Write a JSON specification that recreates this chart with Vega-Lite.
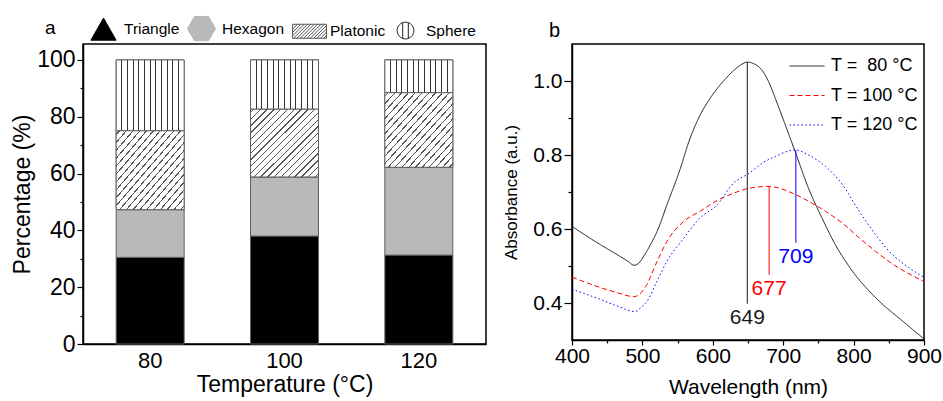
{
  "$schema": "https://vega.github.io/schema/vega-lite/v6.json",
  "background": "white",
  "padding": {"left": 10, "top": 14, "right": 4, "bottom": 2},
  "bounds": "flush",
  "spacing": 86,
  "datasets": {
    "shapes": [
      {"temp": 80, "type": "Triangle", "order": 1, "pct": 30.5},
      {"temp": 80, "type": "Hexagon", "order": 2, "pct": 16.8},
      {"temp": 80, "type": "Platonic", "order": 3, "pct": 27.8},
      {"temp": 80, "type": "Sphere", "order": 4, "pct": 24.9},
      {"temp": 100, "type": "Triangle", "order": 1, "pct": 38.0},
      {"temp": 100, "type": "Hexagon", "order": 2, "pct": 20.8},
      {"temp": 100, "type": "Platonic", "order": 3, "pct": 23.9},
      {"temp": 100, "type": "Sphere", "order": 4, "pct": 17.3},
      {"temp": 120, "type": "Triangle", "order": 1, "pct": 31.3},
      {"temp": 120, "type": "Hexagon", "order": 2, "pct": 30.9},
      {"temp": 120, "type": "Platonic", "order": 3, "pct": 26.3},
      {"temp": 120, "type": "Sphere", "order": 4, "pct": 11.5}
    ],
    "spectra": [
      {"series": "T = \u00a080 °C", "wl": 400, "absorb": 0.607},
      {"series": "T = \u00a080 °C", "wl": 420, "absorb": 0.582},
      {"series": "T = \u00a080 °C", "wl": 440, "absorb": 0.558},
      {"series": "T = \u00a080 °C", "wl": 464, "absorb": 0.531},
      {"series": "T = \u00a080 °C", "wl": 480, "absorb": 0.512},
      {"series": "T = \u00a080 °C", "wl": 488, "absorb": 0.502},
      {"series": "T = \u00a080 °C", "wl": 495, "absorb": 0.508},
      {"series": "T = \u00a080 °C", "wl": 502, "absorb": 0.527},
      {"series": "T = \u00a080 °C", "wl": 511, "absorb": 0.556},
      {"series": "T = \u00a080 °C", "wl": 521, "absorb": 0.594},
      {"series": "T = \u00a080 °C", "wl": 535, "absorb": 0.666},
      {"series": "T = \u00a080 °C", "wl": 554, "absorb": 0.764},
      {"series": "T = \u00a080 °C", "wl": 566, "absorb": 0.836},
      {"series": "T = \u00a080 °C", "wl": 582, "absorb": 0.908},
      {"series": "T = \u00a080 °C", "wl": 594, "absorb": 0.947},
      {"series": "T = \u00a080 °C", "wl": 606, "absorb": 0.979},
      {"series": "T = \u00a080 °C", "wl": 618, "absorb": 1.006},
      {"series": "T = \u00a080 °C", "wl": 630, "absorb": 1.029},
      {"series": "T = \u00a080 °C", "wl": 640, "absorb": 1.044},
      {"series": "T = \u00a080 °C", "wl": 649, "absorb": 1.051},
      {"series": "T = \u00a080 °C", "wl": 660, "absorb": 1.045},
      {"series": "T = \u00a080 °C", "wl": 670, "absorb": 1.029},
      {"series": "T = \u00a080 °C", "wl": 680, "absorb": 0.995},
      {"series": "T = \u00a080 °C", "wl": 689, "absorb": 0.952},
      {"series": "T = \u00a080 °C", "wl": 703, "absorb": 0.881},
      {"series": "T = \u00a080 °C", "wl": 717, "absorb": 0.809},
      {"series": "T = \u00a080 °C", "wl": 736, "absorb": 0.71},
      {"series": "T = \u00a080 °C", "wl": 755, "absorb": 0.63},
      {"series": "T = \u00a080 °C", "wl": 774, "absorb": 0.558},
      {"series": "T = \u00a080 °C", "wl": 798, "absorb": 0.487},
      {"series": "T = \u00a080 °C", "wl": 831, "absorb": 0.415},
      {"series": "T = \u00a080 °C", "wl": 869, "absorb": 0.352},
      {"series": "T = \u00a080 °C", "wl": 900, "absorb": 0.303},
      {"series": "T = 100 °C", "wl": 400, "absorb": 0.47},
      {"series": "T = 100 °C", "wl": 440, "absorb": 0.442},
      {"series": "T = 100 °C", "wl": 464, "absorb": 0.428},
      {"series": "T = 100 °C", "wl": 488, "absorb": 0.417},
      {"series": "T = 100 °C", "wl": 496, "absorb": 0.424},
      {"series": "T = 100 °C", "wl": 504, "absorb": 0.442},
      {"series": "T = 100 °C", "wl": 521, "absorb": 0.513},
      {"series": "T = 100 °C", "wl": 535, "absorb": 0.567},
      {"series": "T = 100 °C", "wl": 559, "absorb": 0.621},
      {"series": "T = 100 °C", "wl": 582, "absorb": 0.648},
      {"series": "T = 100 °C", "wl": 606, "absorb": 0.677},
      {"series": "T = 100 °C", "wl": 630, "absorb": 0.697},
      {"series": "T = 100 °C", "wl": 651, "absorb": 0.71},
      {"series": "T = 100 °C", "wl": 680, "absorb": 0.715},
      {"series": "T = 100 °C", "wl": 713, "absorb": 0.697},
      {"series": "T = 100 °C", "wl": 736, "absorb": 0.675},
      {"series": "T = 100 °C", "wl": 760, "absorb": 0.648},
      {"series": "T = 100 °C", "wl": 784, "absorb": 0.616},
      {"series": "T = 100 °C", "wl": 808, "absorb": 0.576},
      {"series": "T = 100 °C", "wl": 831, "absorb": 0.54},
      {"series": "T = 100 °C", "wl": 855, "absorb": 0.506},
      {"series": "T = 100 °C", "wl": 900, "absorb": 0.458},
      {"series": "T = 120 °C", "wl": 400, "absorb": 0.437},
      {"series": "T = 120 °C", "wl": 440, "absorb": 0.41},
      {"series": "T = 120 °C", "wl": 464, "absorb": 0.392},
      {"series": "T = 120 °C", "wl": 490, "absorb": 0.377},
      {"series": "T = 120 °C", "wl": 498, "absorb": 0.388},
      {"series": "T = 120 °C", "wl": 507, "absorb": 0.406},
      {"series": "T = 120 °C", "wl": 521, "absorb": 0.46},
      {"series": "T = 120 °C", "wl": 535, "absorb": 0.513},
      {"series": "T = 120 °C", "wl": 559, "absorb": 0.576},
      {"series": "T = 120 °C", "wl": 582, "absorb": 0.63},
      {"series": "T = 120 °C", "wl": 606, "absorb": 0.665},
      {"series": "T = 120 °C", "wl": 630, "absorb": 0.725},
      {"series": "T = 120 °C", "wl": 651, "absorb": 0.75},
      {"series": "T = 120 °C", "wl": 672, "absorb": 0.78},
      {"series": "T = 120 °C", "wl": 689, "absorb": 0.796},
      {"series": "T = 120 °C", "wl": 717, "absorb": 0.814},
      {"series": "T = 120 °C", "wl": 736, "absorb": 0.8},
      {"series": "T = 120 °C", "wl": 760, "absorb": 0.769},
      {"series": "T = 120 °C", "wl": 784, "absorb": 0.72},
      {"series": "T = 120 °C", "wl": 808, "absorb": 0.648},
      {"series": "T = 120 °C", "wl": 831, "absorb": 0.585},
      {"series": "T = 120 °C", "wl": 855, "absorb": 0.531},
      {"series": "T = 120 °C", "wl": 879, "absorb": 0.495},
      {"series": "T = 120 °C", "wl": 900, "absorb": 0.469}
    ],
    "peaks": [
      {"series": "T = \u00a080 °C", "wl": 649, "lo": 0.398, "hi": 1.051, "label": "649"},
      {"series": "T = 100 °C", "wl": 680, "lo": 0.476, "hi": 0.715, "label": "677"},
      {"series": "T = 120 °C", "wl": 718, "lo": 0.563, "hi": 0.813, "label": "709"}
    ]
  },
  "hconcat": [
    {
      "width": 403,
      "height": 300,
      "data": {"name": "shapes"},
      "transform": [
        {"stack": "pct", "groupby": ["temp"], "sort": [{"field": "order", "order": "ascending"}], "as": ["lo", "hi"]}
      ],
      "encoding": {
        "x": {
          "field": "temp", "type": "ordinal",
          "scale": {"domain": [80, 100, 120], "paddingInner": 0.494, "paddingOuter": 0.247},
          "axis": {"title": "Temperature (°C)", "titleFontSize": 23, "labelFontSize": 22, "labelAngle": 0, "ticks": false, "labelPadding": 6, "titlePadding": 2}
        },
        "y": {
          "field": "lo", "type": "quantitative",
          "scale": {"domain": [0, 105.6], "nice": false, "zero": false},
          "axis": {
            "title": "Percentage (%)", "titleFontSize": 23, "labelFontSize": 23, "titlePadding": 2, "labelPadding": 2, "labelFlush": false,
            "values": [0, 10, 20, 30, 40, 50, 60, 70, 80, 90, 100],
            "labelExpr": "datum.value % 20 == 0 ? datum.label : ''",
            "tickSize": {"condition": {"test": "datum.value % 20 == 0", "value": 6}, "value": 3}
          }
        },
        "y2": {"field": "hi"}
      },
      "layer": [
        {
          "mark": {"type": "bar", "stroke": "#606060", "strokeWidth": 1},
          "encoding": {
            "fill": {"field": "type", "type": "nominal",
              "scale": {"domain": ["Triangle", "Hexagon", "Platonic", "Sphere"], "range": ["#000000", "#b9b9b9", "#ffffff", "#ffffff"]}}
          }
        },
        {
          "transform": [{"filter": "datum.type == 'Platonic'"}],
          "mark": {"type": "bar", "stroke": "#606060", "strokeWidth": 1,
            "fill": {"gradient": "linear", "x1": 0, "y1": 0, "x2": 1, "y2": 1, "stops": [
              {"offset": 0, "color": "#ffffff"},
              {"offset": 0.02, "color": "#ffffff"}, {"offset": 0.02, "color": "#555555"}, {"offset": 0.03, "color": "#555555"}, {"offset": 0.03, "color": "#ffffff"},
              {"offset": 0.07, "color": "#ffffff"}, {"offset": 0.07, "color": "#555555"}, {"offset": 0.08, "color": "#555555"}, {"offset": 0.08, "color": "#ffffff"},
              {"offset": 0.12, "color": "#ffffff"}, {"offset": 0.12, "color": "#555555"}, {"offset": 0.13, "color": "#555555"}, {"offset": 0.13, "color": "#ffffff"},
              {"offset": 0.17, "color": "#ffffff"}, {"offset": 0.17, "color": "#555555"}, {"offset": 0.18, "color": "#555555"}, {"offset": 0.18, "color": "#ffffff"},
              {"offset": 0.22, "color": "#ffffff"}, {"offset": 0.22, "color": "#555555"}, {"offset": 0.23, "color": "#555555"}, {"offset": 0.23, "color": "#ffffff"},
              {"offset": 0.27, "color": "#ffffff"}, {"offset": 0.27, "color": "#555555"}, {"offset": 0.28, "color": "#555555"}, {"offset": 0.28, "color": "#ffffff"},
              {"offset": 0.32, "color": "#ffffff"}, {"offset": 0.32, "color": "#555555"}, {"offset": 0.33, "color": "#555555"}, {"offset": 0.33, "color": "#ffffff"},
              {"offset": 0.37, "color": "#ffffff"}, {"offset": 0.37, "color": "#555555"}, {"offset": 0.38, "color": "#555555"}, {"offset": 0.38, "color": "#ffffff"},
              {"offset": 0.42, "color": "#ffffff"}, {"offset": 0.42, "color": "#555555"}, {"offset": 0.43, "color": "#555555"}, {"offset": 0.43, "color": "#ffffff"},
              {"offset": 0.47, "color": "#ffffff"}, {"offset": 0.47, "color": "#555555"}, {"offset": 0.48, "color": "#555555"}, {"offset": 0.48, "color": "#ffffff"},
              {"offset": 0.52, "color": "#ffffff"}, {"offset": 0.52, "color": "#555555"}, {"offset": 0.53, "color": "#555555"}, {"offset": 0.53, "color": "#ffffff"},
              {"offset": 0.57, "color": "#ffffff"}, {"offset": 0.57, "color": "#555555"}, {"offset": 0.58, "color": "#555555"}, {"offset": 0.58, "color": "#ffffff"},
              {"offset": 0.62, "color": "#ffffff"}, {"offset": 0.62, "color": "#555555"}, {"offset": 0.63, "color": "#555555"}, {"offset": 0.63, "color": "#ffffff"},
              {"offset": 0.67, "color": "#ffffff"}, {"offset": 0.67, "color": "#555555"}, {"offset": 0.68, "color": "#555555"}, {"offset": 0.68, "color": "#ffffff"},
              {"offset": 0.72, "color": "#ffffff"}, {"offset": 0.72, "color": "#555555"}, {"offset": 0.73, "color": "#555555"}, {"offset": 0.73, "color": "#ffffff"},
              {"offset": 0.77, "color": "#ffffff"}, {"offset": 0.77, "color": "#555555"}, {"offset": 0.78, "color": "#555555"}, {"offset": 0.78, "color": "#ffffff"},
              {"offset": 0.82, "color": "#ffffff"}, {"offset": 0.82, "color": "#555555"}, {"offset": 0.83, "color": "#555555"}, {"offset": 0.83, "color": "#ffffff"},
              {"offset": 0.87, "color": "#ffffff"}, {"offset": 0.87, "color": "#555555"}, {"offset": 0.88, "color": "#555555"}, {"offset": 0.88, "color": "#ffffff"},
              {"offset": 0.92, "color": "#ffffff"}, {"offset": 0.92, "color": "#555555"}, {"offset": 0.93, "color": "#555555"}, {"offset": 0.93, "color": "#ffffff"},
              {"offset": 0.97, "color": "#ffffff"}, {"offset": 0.97, "color": "#555555"}, {"offset": 0.98, "color": "#555555"}, {"offset": 0.98, "color": "#ffffff"},
              {"offset": 1, "color": "#ffffff"}
            ]}
          }
        },
        {
          "transform": [{"filter": "datum.type == 'Sphere'"}],
          "mark": {"type": "bar", "stroke": "#606060", "strokeWidth": 1,
            "fill": {"gradient": "linear", "x1": 0, "y1": 0, "x2": 1, "y2": 0, "stops": [
              {"offset": 0, "color": "#ffffff"},
              {"offset": 0.0758, "color": "#ffffff"}, {"offset": 0.0758, "color": "#333333"}, {"offset": 0.0908, "color": "#333333"}, {"offset": 0.0908, "color": "#ffffff"},
              {"offset": 0.1592, "color": "#ffffff"}, {"offset": 0.1592, "color": "#333333"}, {"offset": 0.1742, "color": "#333333"}, {"offset": 0.1742, "color": "#ffffff"},
              {"offset": 0.2425, "color": "#ffffff"}, {"offset": 0.2425, "color": "#333333"}, {"offset": 0.2575, "color": "#333333"}, {"offset": 0.2575, "color": "#ffffff"},
              {"offset": 0.3258, "color": "#ffffff"}, {"offset": 0.3258, "color": "#333333"}, {"offset": 0.3408, "color": "#333333"}, {"offset": 0.3408, "color": "#ffffff"},
              {"offset": 0.4092, "color": "#ffffff"}, {"offset": 0.4092, "color": "#333333"}, {"offset": 0.4242, "color": "#333333"}, {"offset": 0.4242, "color": "#ffffff"},
              {"offset": 0.4925, "color": "#ffffff"}, {"offset": 0.4925, "color": "#333333"}, {"offset": 0.5075, "color": "#333333"}, {"offset": 0.5075, "color": "#ffffff"},
              {"offset": 0.5758, "color": "#ffffff"}, {"offset": 0.5758, "color": "#333333"}, {"offset": 0.5908, "color": "#333333"}, {"offset": 0.5908, "color": "#ffffff"},
              {"offset": 0.6592, "color": "#ffffff"}, {"offset": 0.6592, "color": "#333333"}, {"offset": 0.6742, "color": "#333333"}, {"offset": 0.6742, "color": "#ffffff"},
              {"offset": 0.7425, "color": "#ffffff"}, {"offset": 0.7425, "color": "#333333"}, {"offset": 0.7575, "color": "#333333"}, {"offset": 0.7575, "color": "#ffffff"},
              {"offset": 0.8258, "color": "#ffffff"}, {"offset": 0.8258, "color": "#333333"}, {"offset": 0.8408, "color": "#333333"}, {"offset": 0.8408, "color": "#ffffff"},
              {"offset": 0.9092, "color": "#ffffff"}, {"offset": 0.9092, "color": "#333333"}, {"offset": 0.9242, "color": "#333333"}, {"offset": 0.9242, "color": "#ffffff"},
              {"offset": 1, "color": "#ffffff"}
            ]}
          }
        },
        {
          "transform": [{"filter": "datum.temp == 80"}],
          "mark": {"type": "point", "filled": true, "strokeWidth": 1, "opacity": 0},
          "encoding": {
            "fill": {"field": "type", "type": "nominal",
              "scale": {"domain": ["Triangle", "Hexagon", "Platonic", "Sphere"], "range": ["#000000", "#b9b9b9", "#ffffff", "#ffffff"]},
              "legend": {"title": "a", "titleOrient": "left", "titleFontSize": 19, "titleFontWeight": "normal", "titlePadding": 33, "titleAnchor": "middle", "titleBaseline": "middle",
                "orient": "none", "legendX": -38, "legendY": -30, "direction": "horizontal", "symbolSize": 784, "symbolStrokeWidth": 1, "symbolOpacity": 1,
                "labelFontSize": 15.5, "labelOffset": 6, "columnPadding": 5, "padding": 0}},
            "stroke": {"field": "type", "type": "nominal",
              "scale": {"domain": ["Triangle", "Hexagon", "Platonic", "Sphere"], "range": ["#000000", "#b9b9b9", "#555555", "#222222"]},
              "legend": {"title": "a", "titleOrient": "left", "titleFontSize": 19, "titleFontWeight": "normal", "titlePadding": 33, "titleAnchor": "middle", "titleBaseline": "middle",
                "orient": "none", "legendX": -38, "legendY": -30, "direction": "horizontal", "symbolSize": 784, "symbolStrokeWidth": 1, "symbolOpacity": 1,
                "labelFontSize": 15.5, "labelOffset": 6, "columnPadding": 5, "padding": 0}},
            "shape": {"field": "type", "type": "nominal",
              "scale": {"domain": ["Triangle", "Hexagon", "Platonic", "Sphere"], "range": [
                "M0,-0.8L0.9,0.78L-0.9,0.78Z",
                "M-1,0L-0.5,-0.87L0.5,-0.87L1,0L0.5,0.87L-0.5,0.87Z",
                "M-1.21,-0.5H1.21V0.5H-1.21Z M-1.21,-0.15L-0.86,-0.5 M-1.21,0.09L-0.62,-0.5 M-1.21,0.33L-0.38,-0.5 M-1.14,0.5L-0.14,-0.5 M-0.9,0.5L0.1,-0.5 M-0.66,0.5L0.34,-0.5 M-0.42,0.5L0.58,-0.5 M-0.18,0.5L0.82,-0.5 M0.06,0.5L1.06,-0.5 M0.3,0.5L1.21,-0.41 M0.54,0.5L1.21,-0.17 M0.78,0.5L1.21,0.07 M1.02,0.5L1.21,0.31",
                "M-0.6,0A0.6,0.6,0,1,1,0.6,0A0.6,0.6,0,1,1,-0.6,0Z M-0.2,-0.56V0.56 M0.2,-0.56V0.56"
              ]},
              "legend": {"title": "a", "titleOrient": "left", "titleFontSize": 19, "titleFontWeight": "normal", "titlePadding": 33, "titleAnchor": "middle", "titleBaseline": "middle",
                "orient": "none", "legendX": -38, "legendY": -30, "direction": "horizontal", "symbolSize": 784, "symbolStrokeWidth": 1, "symbolOpacity": 1,
                "labelFontSize": 15.5, "labelOffset": 6, "columnPadding": 5, "padding": 0}}
          }
        }
      ]
    },
    {
      "width": 352,
      "height": 296,
      "title": {"text": "b", "anchor": "start", "frame": "group", "dx": -23, "dy": 24, "fontSize": 20, "fontWeight": "normal", "offset": 11, "baseline": "alphabetic"},
      "encoding": {
        "x": {
          "field": "wl", "type": "quantitative",
          "scale": {"domain": [400, 900], "nice": false, "zero": false},
          "axis": {"title": "Wavelength (nm)", "titleFontSize": 21, "labelFontSize": 21, "labelPadding": 0, "titlePadding": 10, "labelFlush": false,
            "values": [400, 450, 500, 550, 600, 650, 700, 750, 800, 850, 900],
            "labelExpr": "datum.value % 100 == 0 ? datum.label : ''",
            "tickSize": {"condition": {"test": "datum.value % 100 == 0", "value": 5}, "value": 3}}
        }
      },
      "layer": [
        {
          "data": {"name": "spectra"},
          "mark": {"type": "line", "strokeWidth": 1, "interpolate": "monotone"},
          "encoding": {
            "y": {
              "field": "absorb", "type": "quantitative",
              "scale": {"domain": [0.3, 1.1], "nice": false, "zero": false},
              "axis": {"title": "Absorbance (a.u.)", "titleFontSize": 17, "labelFontSize": 21, "labelPadding": 2, "titlePadding": 12, "format": ".1f", "labelFlush": false,
                "values": [0.4, 0.5, 0.6, 0.7, 0.8, 0.9, 1.0],
                "labelExpr": "round(datum.value * 10) % 2 == 0 ? datum.label : ''",
                "tickSize": {"condition": {"test": "round(datum.value * 10) % 2 == 0", "value": 8}, "value": 4}}
            },
            "color": {"field": "series", "type": "nominal",
              "scale": {"domain": ["T = \u00a080 °C", "T = 100 °C", "T = 120 °C"], "range": ["#1a1a1a", "#ff0000", "#0000ff"]},
              "legend": {"title": null, "orient": "none", "legendX": 706, "legendY": 4, "symbolType": "stroke", "symbolSize": 1225, "symbolStrokeWidth": 1, "labelFontSize": 18, "labelOffset": 6, "rowPadding": 2.5, "padding": 0,
                "encode": {"symbols": {"update": {"strokeDash": {"scale": "strokeDash", "field": "value"}}}}}},
            "strokeDash": {"field": "series", "type": "nominal", "legend": null,
              "scale": {"domain": ["T = \u00a080 °C", "T = 100 °C", "T = 120 °C"], "range": [[1, 0], [5, 3], [1.5, 2.5]]}}
          }
        },
        {
          "data": {"name": "peaks"},
          "mark": {"type": "rule", "strokeWidth": 1},
          "encoding": {
            "y": {"field": "lo", "type": "quantitative"},
            "y2": {"field": "hi"},
            "color": {"field": "series", "type": "nominal"}
          }
        },
        {
          "data": {"name": "peaks"},
          "mark": {"type": "text", "baseline": "top", "align": "center", "dy": 3, "fontSize": 21},
          "encoding": {
            "y": {"field": "lo", "type": "quantitative"},
            "text": {"field": "label"},
            "color": {"field": "series", "type": "nominal"}
          }
        }
      ]
    }
  ],
  "config": {
    "font": "Liberation Sans",
    "view": {"stroke": "#000000", "strokeWidth": 1.5},
    "axis": {"grid": false, "domainColor": "#000000", "domainWidth": 1.5, "tickColor": "#000000", "tickWidth": 1.2,
      "labelColor": "#000000", "titleColor": "#000000", "titleFontWeight": "normal", "labelFont": "Liberation Sans", "titleFont": "Liberation Sans"},
    "legend": {"labelColor": "#000000", "labelFont": "Liberation Sans", "titleFont": "Liberation Sans", "titleColor": "#000000"},
    "title": {"color": "#000000", "font": "Liberation Sans"}
  }
}
